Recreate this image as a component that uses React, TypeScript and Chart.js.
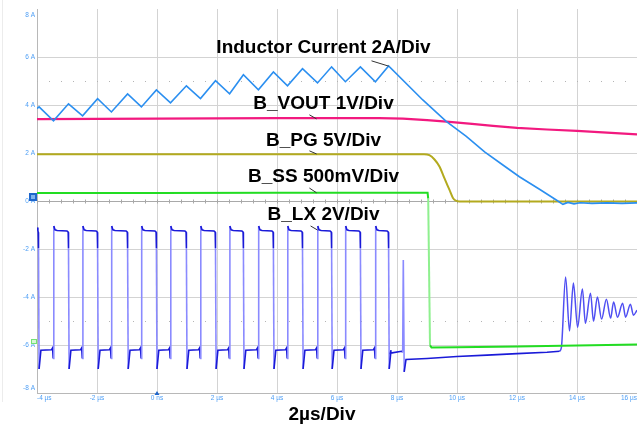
import { useEffect, useRef } from 'react';
import { Chart, registerables } from 'chart.js';

Chart.register(...registerables);

const W = 637;
const H = 433;
const FONT = '"Liberation Sans", Arial, sans-serif';

// Axis ticks (screen divisions labelled in A and µs by the scope)
const xTickValues = [-4, -2, 0, 2, 4, 6, 8, 10, 12, 14, 16];
const xTickLabels = ['-4 µs', '-2 µs', '0 ns', '2 µs', '4 µs', '6 µs', '8 µs', '10 µs', '12 µs', '14 µs', '16 µs'];
const yTickValues = [8, 6, 4, 2, 0, -2, -4, -6, -8];
const yTickLabels = ['8 A', '6 A', '4 A', '2 A', '0 A', '-2 A', '-4 A', '-6 A', '-8 A'];

// Inductor current trace (screen units)
const inductorTime = [-4, -3.93, -3.45, -2.95, -2.48, -1.98, -1.52, -0.98, -0.52, -0.02, 0.45, 0.98, 1.45, 1.95, 2.42, 2.88, 3.38, 3.88, 4.35, 4.85, 5.35, 5.82, 6.28, 6.78, 7.28, 7.72, 8.86, 9.64, 10.31, 10.92, 11.53, 12.08, 12.75, 13.31, 13.53, 13.7, 13.9, 14.1, 14.5, 15.0, 15.5, 16];
const inductorValue = [3.85, 3.92, 3.34, 4.05, 3.55, 4.26, 3.71, 4.46, 3.92, 4.63, 4.09, 4.8, 4.27, 5.01, 4.47, 5.26, 4.63, 5.38, 4.8, 5.51, 4.92, 5.59, 4.97, 5.59, 4.97, 5.63, 4.21, 3.32, 2.69, 2.05, 1.5, 1.01, 0.49, 0.04, -0.14, -0.06, -0.12, -0.07, -0.1, -0.08, -0.1, -0.08];

// B_VOUT trace
const voutTime = [-4, 0, 4, 7.4, 8.2, 9, 9.65, 10.5, 11.2, 12, 13, 14, 15, 16];
const voutValue = [3.41, 3.43, 3.45, 3.45, 3.43, 3.37, 3.31, 3.21, 3.13, 3.05, 2.98, 2.92, 2.85, 2.78];

// B_PG trace
const pgTime = [-4, 0, 4, 8, 8.9, 9.08, 9.25, 9.42, 9.58, 9.75, 9.86, 9.95, 10.08, 12, 14, 16];
const pgValue = [1.95, 1.95, 1.95, 1.95, 1.95, 1.91, 1.73, 1.43, 0.95, 0.46, 0.14, 0.02, -0.02, -0.02, -0.02, -0.02];

// B_SS trace
const ssTime = [-4, 0, 4, 8, 9.02, 9.04, 9.1, 9.15, 10, 12, 14, 16];
const ssValue = [0.33, 0.33, 0.34, 0.34, 0.34, 0.1, -6.02, -6.1, -6.09, -6.06, -6.02, -5.98];

// B_LX switching edges and levels
const lxFallTimes = [-3.95, -2.95, -1.98, -0.98, -0.02, 0.98, 1.95, 2.88, 3.88, 4.85, 5.82, 6.78, 7.72];
const lxRiseTimes = [-3.45, -2.48, -1.52, -0.52, 0.45, 1.45, 2.42, 3.38, 4.35, 5.35, 6.28, 7.28];
const lxHighLevel = -1.23;
const lxHighSpike = -1.04;
const lxHighEnd = -1.3;
const lxFallKnee = -1.96;
const lxLowSpike = -7.0;
const lxLowLevel = -6.22;
const lxLowBump = -6.12;
const lxLowDip = -6.56;
const lxTailTime = [7.78, 8.15, 8.19, 8.21, 8.24, 8.3, 9, 10, 11, 12, 13, 13.42];
const lxTailValue = [-6.34, -6.26, -6.3, -2.46, -7.12, -6.6, -6.56, -6.48, -6.42, -6.36, -6.3, -6.26];
const lxRingTime = [13.42, 13.48, 13.62, 13.75, 13.88, 14.02, 14.18, 14.28, 14.45, 14.55, 14.68, 14.82, 14.98, 15.12, 15.22, 15.35, 15.52, 15.62, 15.78, 15.88, 16];
const lxRingValue = [-6.26, -6.1, -3.17, -5.42, -3.42, -5.26, -3.67, -5.09, -3.84, -5.01, -4.0, -4.92, -4.09, -4.88, -4.21, -4.84, -4.26, -4.84, -4.3, -4.76, -4.55];

// Trace annotations (text, centre in data units, leader from -> to)
const labelTexts = ['Inductor Current 2A/Div', 'B_VOUT 1V/Div', 'B_PG 5V/Div', 'B_SS 500mV/Div', 'B_LX 2V/Div'];
const labelCenterT = [5.55, 5.55, 5.55, 5.55, 5.55];
const labelCenterV = [6.38, 4.05, 2.5, 1.0, -0.58];
const leaderFrom = [[7.15, 5.84], [5.08, 3.59], [5.08, 2.09], [5.08, 0.54], [5.12, -1.04]];
const leaderTo = [[7.72, 5.62], [5.32, 3.42], [5.32, 1.96], [5.32, 0.34], [5.35, -1.21]];

const zip = (t: number[], v: number[]) => t.map((x, i) => ({ x, y: v[i] }));

function buildLx() {
  const pts: { x: number; y: number }[] = [{ x: -4, y: -1.1 }, { x: -3.97, y: lxHighLevel }];
  lxFallTimes.forEach((f, i) => {
    pts.push({ x: f - 0.01, y: lxHighEnd });
    pts.push({ x: f, y: lxFallKnee });
    pts.push({ x: f + 0.02, y: lxLowSpike });
    pts.push({ x: f + 0.08, y: lxLowLevel });
    const r = lxRiseTimes[i];
    if (r === undefined) return;
    pts.push({ x: r - 0.07, y: lxLowLevel + 0.02 });
    pts.push({ x: r - 0.03, y: lxLowBump });
    pts.push({ x: r - 0.01, y: lxLowDip });
    pts.push({ x: r + 0.01, y: lxHighSpike });
    pts.push({ x: r + 0.05, y: lxHighLevel + 0.03 });
    pts.push({ x: r + 0.12, y: lxHighLevel });
    const nf = lxFallTimes[i + 1];
    pts.push({ x: nf - 0.05, y: lxHighLevel - 0.02 });
  });
  return pts.concat(zip(lxTailTime, lxTailValue));
}

const edgeColor = (light: string) => (ctx: any) => {
  const dx = Math.abs(ctx.p1.x - ctx.p0.x);
  const dy = Math.abs(ctx.p1.y - ctx.p0.y);
  return dx < 2.5 && dy > 20 ? light : undefined;
};

const scopePlugin = {
  id: 'scope',
  beforeDatasetsDraw(chart: any) {
    const { ctx, chartArea, scales } = chart;
    const xs = scales.x;
    const ys = scales.y;
    ctx.save();
    // centre line ticks
    ctx.strokeStyle = '#a8a8a8';
    ctx.lineWidth = 1;
    const y0 = Math.round(ys.getPixelForValue(0)) + 0.5;
    ctx.beginPath();
    for (let i = 0; i <= 50; i++) {
      const x = Math.round(xs.getPixelForValue(-4 + i * 0.4)) + 0.5;
      ctx.moveTo(x, y0 - 2);
      ctx.lineTo(x, y0 + 2);
    }
    ctx.stroke();
    // dotted level lines
    ctx.fillStyle = '#b4b4b4';
    [5, -5].forEach((v) => {
      const y = Math.round(ys.getPixelForValue(v));
      for (let i = 0; i <= 50; i++) {
        const x = Math.round(xs.getPixelForValue(-4 + i * 0.4));
        ctx.fillRect(x, y, 1, 1);
      }
    });
    // faint panel edge
    ctx.fillStyle = '#ececec';
    ctx.fillRect(2, 0, 1, chartArea.bottom + 9);
    ctx.restore();
  },
  afterDatasetsDraw(chart: any) {
    const { ctx, chartArea, scales } = chart;
    const xs = scales.x;
    const ys = scales.y;
    ctx.save();
    // tick labels
    ctx.font = `6.5px ${FONT}`;
    ctx.fillStyle = '#4d9ef5';
    ctx.textBaseline = 'middle';
    ctx.textAlign = 'right';
    yTickValues.forEach((v, i) => {
      let y = ys.getPixelForValue(v);
      y = Math.max(chartArea.top + 6, Math.min(chartArea.bottom - 5, y));
      ctx.fillText(yTickLabels[i], chartArea.left - 2, y);
    });
    ctx.textAlign = 'left';
    xTickValues.forEach((t, i) => {
      const w = ctx.measureText(xTickLabels[i]).width;
      let left = xs.getPixelForValue(t) - w / 2;
      left = Math.max(chartArea.left, Math.min(W - w, left));
      ctx.fillText(xTickLabels[i], left, chartArea.bottom + 5.5);
    });
    // trace annotations
    ctx.strokeStyle = '#333333';
    ctx.lineWidth = 1;
    labelTexts.forEach((txt, i) => {
      ctx.beginPath();
      ctx.moveTo(xs.getPixelForValue(leaderFrom[i][0]), ys.getPixelForValue(leaderFrom[i][1]));
      ctx.lineTo(xs.getPixelForValue(leaderTo[i][0]), ys.getPixelForValue(leaderTo[i][1]));
      ctx.stroke();
    });
    ctx.font = `bold 19px ${FONT}`;
    ctx.fillStyle = '#000000';
    ctx.textAlign = 'center';
    ctx.textBaseline = 'middle';
    labelTexts.forEach((txt, i) => {
      ctx.fillText(txt, xs.getPixelForValue(labelCenterT[i]), ys.getPixelForValue(labelCenterV[i]));
    });
    // axis title
    ctx.font = `bold 19px ${FONT}`;
    ctx.fillText('2µs/Div', 322, 415);
    // channel markers
    const yz = ys.getPixelForValue(0);
    ctx.fillStyle = '#1e66cc';
    ctx.fillRect(chartArea.left - 8, yz - 8, 8, 8);
    ctx.fillStyle = '#7fb2ee';
    ctx.fillRect(chartArea.left - 6, yz - 6, 4, 4);
    const y6 = ys.getPixelForValue(-6);
    ctx.fillStyle = '#74e274';
    ctx.fillRect(chartArea.left - 6, y6 - 6, 6, 5);
    ctx.fillStyle = '#d8f8d8';
    ctx.fillRect(chartArea.left - 5, y6 - 5, 4, 3);
    // trigger marker
    const xt = xs.getPixelForValue(0);
    ctx.fillStyle = '#1e66cc';
    ctx.beginPath();
    ctx.moveTo(xt, chartArea.bottom - 2);
    ctx.lineTo(xt + 2.5, chartArea.bottom + 2);
    ctx.lineTo(xt - 2.5, chartArea.bottom + 2);
    ctx.closePath();
    ctx.fill();
    ctx.restore();
  },
};

export default function App() {
  const ref = useRef<HTMLCanvasElement>(null);
  useEffect(() => {
    document.body.style.margin = '0';
    const chart = new Chart(ref.current!, {
      type: 'line',
      data: {
        datasets: [
          {
            label: 'Inductor Current',
            data: zip(inductorTime, inductorValue),
            borderColor: '#2b8ff0',
            borderWidth: 1.6,
          },
          {
            label: 'B_VOUT',
            data: zip(voutTime, voutValue),
            borderColor: '#f2197f',
            borderWidth: 2.2,
          },
          {
            label: 'B_PG',
            data: zip(pgTime, pgValue),
            borderColor: '#b3aa1e',
            borderWidth: 2,
            cubicInterpolationMode: 'monotone',
          },
          {
            label: 'B_SS',
            data: zip(ssTime, ssValue),
            borderColor: '#22dd22',
            borderWidth: 2,
            segment: { borderColor: edgeColor('#8ff08f') },
          },
          {
            label: 'B_LX',
            data: buildLx(),
            borderColor: '#1a1ad8',
            borderWidth: 1.6,
            segment: { borderColor: edgeColor('#8a8aff') },
          },
          {
            label: 'B_LX ring',
            data: zip(lxRingTime, lxRingValue),
            borderColor: '#4f4ff2',
            borderWidth: 1.5,
            cubicInterpolationMode: 'monotone',
          },
        ] as any,
      },
      options: {
        responsive: false,
        animation: false,
        devicePixelRatio: 1,
        events: [],
        parsing: false as any,
        normalized: true,
        elements: { point: { radius: 0 }, line: { tension: 0, fill: false } },
        layout: { padding: { top: 9, right: 0, left: 0, bottom: 0 } },
        plugins: { legend: { display: false }, tooltip: { enabled: false } },
        scales: {
          x: {
            type: 'linear',
            min: -4,
            max: 16,
            ticks: { display: false, stepSize: 2 },
            grid: { color: '#d3d3d3', drawTicks: false },
            border: { display: true, color: '#b8b8b8' },
            afterFit: (s: any) => { s.height = 40; },
          },
          y: {
            type: 'linear',
            min: -8,
            max: 8,
            ticks: { display: false, stepSize: 2 },
            grid: {
              color: (c: any) => (c.tick && c.tick.value === 8 ? 'rgba(0,0,0,0)' : c.tick && c.tick.value === 0 ? '#a9a9a9' : '#d3d3d3'),
              drawTicks: false,
            },
            border: { display: true, color: '#b8b8b8' },
            afterFit: (s: any) => { s.width = 37; },
          },
        },
      } as any,
      plugins: [scopePlugin],
    });
    return () => chart.destroy();
  }, []);
  return (
    <div style={{ position: 'absolute', left: 0, top: 0, width: W, height: H, background: '#ffffff' }}>
      <canvas ref={ref} width={W} height={H} style={{ width: W, height: H, display: 'block' }} />
    </div>
  );
}
